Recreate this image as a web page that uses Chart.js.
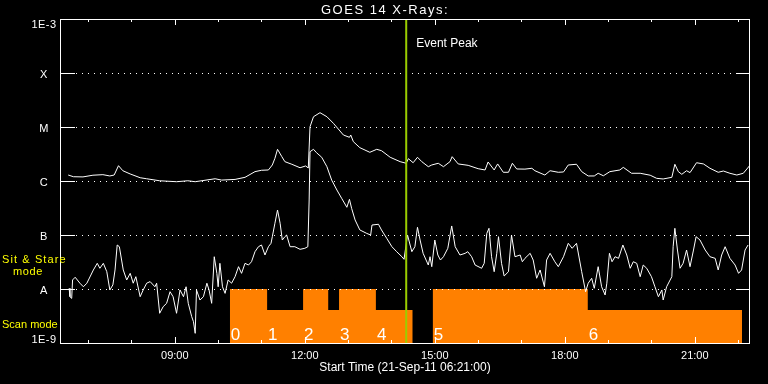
<!DOCTYPE html>
<html><head><meta charset="utf-8">
<script src="https://cdn.jsdelivr.net/npm/chart.js@4/dist/chart.umd.min.js"></script>
<style>html,body{margin:0;padding:0;background:#000;overflow:hidden}</style>
</head><body>
<canvas id="c" width="768" height="384" style="display:block;width:768px;height:384px"></canvas>
<script>
// Time axis in decimal hours of 21-Sep-11 (start 06:21:00)
const xMin = 6.35, xMax = 22.274;
const xTickHours = [7,8,9,10,11,12,13,14,15,16,17,18,19,20,21,22];
const xLabelHours = [9,12,15,18,21];
const xTickLabels = ['09:00','12:00','15:00','18:00','21:00'];
const yTickValues = [1e-3,1e-4,1e-5,1e-6,1e-7,1e-8,1e-9];
const yTickLabels = ['1E-3','X','M','C','B','A','1E-9'];
const eventPeakHour = 14.34;

// GOES 14 long channel (1-8 A), W/m^2
const upperTimes = [6.54,6.66,6.88,7.11,7.34,7.50,7.60,7.70,7.80,7.97,
8.20,8.35,8.65,9.04,9.30,9.47,9.93,10.08,10.39,10.62,
10.85,11.00,11.16,11.25,11.31,11.37,11.47,11.54,11.70,11.89,
12.02,12.08,12.12,12.20,12.35,12.51,12.66,12.89,13.03,13.06,
13.12,13.27,13.50,13.66,13.77,13.97,14.20,14.34,14.39,14.50,
14.60,14.70,14.85,14.93,15.08,15.20,15.35,15.40,15.54,15.77,
16.00,16.16,16.23,16.37,16.45,16.58,16.70,16.79,16.89,17.08,
17.24,17.31,17.54,17.66,17.85,17.97,18.08,18.27,18.39,18.54,
18.68,18.77,18.89,19.04,19.27,19.35,19.54,19.74,19.97,20.12,
20.27,20.47,20.54,20.62,20.70,20.81,20.89,21.04,21.20,21.35,
21.54,21.66,21.81,21.97,22.12,22.26];
const upperFlux = [1.29e-6,1.20e-6,1.19e-6,1.28e-6,1.31e-6,1.24e-6,1.29e-6,1.92e-6,1.55e-6,1.35e-6,
1.15e-6,1.10e-6,1.01e-6,9.7e-7,1.01e-6,9.7e-7,1.10e-6,1.04e-6,1.07e-6,1.17e-6,
1.49e-6,1.58e-6,1.60e-6,1.98e-6,2.63e-6,3.86e-6,2.82e-6,2.28e-6,2.04e-6,1.76e-6,
1.90e-6,1.74e-6,1.01e-5,1.55e-5,1.84e-5,1.55e-5,1.17e-5,7.11e-6,6.44e-6,7.11e-6,
5.35e-6,4.14e-6,3.40e-6,3.86e-6,3.64e-6,2.75e-6,2.28e-6,2.13e-6,2.59e-6,2.18e-6,
2.75e-6,2.28e-6,1.84e-6,1.98e-6,2.13e-6,1.84e-6,2.28e-6,2.82e-6,2.07e-6,1.95e-6,
1.69e-6,1.60e-6,2.25e-6,1.60e-6,2.07e-6,1.45e-6,1.45e-6,2.13e-6,1.67e-6,1.66e-6,
1.72e-6,1.55e-6,1.29e-6,1.55e-6,1.45e-6,1.47e-6,1.98e-6,2.04e-6,1.49e-6,1.24e-6,
1.24e-6,1.39e-6,1.25e-6,1.49e-6,1.60e-6,1.79e-6,1.39e-6,1.39e-6,1.28e-6,1.12e-6,
1.09e-6,1.17e-6,2.04e-6,1.49e-6,1.33e-6,1.55e-6,1.43e-6,2.18e-6,2.07e-6,1.72e-6,
1.45e-6,1.53e-6,1.39e-6,1.29e-6,1.39e-6,1.90e-6];

// GOES 14 short channel (0.5-4 A), W/m^2
const lowerTimes = [6.56,6.58,6.62,6.64,6.70,6.81,6.89,6.97,7.12,7.21,
7.27,7.35,7.43,7.50,7.57,7.62,7.67,7.72,7.81,7.89,
7.97,8.04,8.10,8.20,8.27,8.35,8.43,8.54,8.58,8.65,
8.73,8.81,8.89,8.96,9.04,9.12,9.20,9.26,9.31,9.39,
9.43,9.47,9.50,9.58,9.66,9.74,9.79,9.85,9.91,9.97,
10.00,10.04,10.10,10.16,10.23,10.31,10.39,10.47,10.54,10.62,
10.70,10.77,10.85,10.93,11.00,11.08,11.16,11.22,11.25,11.31,
11.37,11.43,11.48,11.54,11.58,11.66,11.77,11.89,12.00,12.07,
12.10,12.12,12.20,12.27,12.39,12.51,12.62,12.74,12.85,12.97,
13.03,13.08,13.16,13.27,13.43,13.52,13.55,13.70,13.77,13.89,
14.01,14.12,14.24,14.29,14.37,14.47,14.54,14.60,14.66,14.73,
14.85,14.89,14.93,15.00,15.07,15.13,15.20,15.30,15.39,15.47,
15.58,15.70,15.76,15.85,15.93,16.08,16.14,16.20,16.25,16.31,
16.37,16.43,16.47,16.54,16.60,16.70,16.77,16.85,16.97,17.02,
17.08,17.20,17.27,17.35,17.43,17.53,17.58,17.66,17.77,
17.85,17.97,18.08,18.17,18.27,18.39,18.48,18.54,18.62,18.68,
18.77,18.85,18.93,18.97,19.03,19.09,19.16,19.24,19.34,19.43,
19.51,19.58,19.66,19.74,19.81,19.89,20.00,20.08,20.16,20.24,
20.27,20.35,20.47,20.50,20.54,20.60,20.66,20.73,20.81,20.89,
20.97,21.03,21.12,21.24,21.35,21.47,21.54,21.62,21.70,21.81,
21.93,22.01,22.08,22.16,22.23];
const lowerFlux = [1.03e-8,7.2e-9,6.7e-9,1.47e-8,1.65e-8,1.28e-8,1.10e-8,1.28e-8,2.25e-8,2.99e-8,
2.42e-8,2.99e-8,2.09e-8,9.6e-9,1.19e-8,2.25e-8,6.53e-8,6.07e-8,2.25e-8,1.47e-8,
1.95e-8,1.28e-8,1.69e-8,7.2e-9,9.6e-9,1.28e-8,1.37e-8,1.10e-8,1.28e-8,3.55e-9,
4.70e-9,5.43e-9,8.91e-9,7.2e-9,3.55e-9,9.6e-9,7.2e-9,1.10e-8,5.43e-9,3.07e-9,
2.48e-9,1.51e-9,9.6e-9,6.25e-9,7.2e-9,1.28e-8,9.6e-9,5.43e-9,3.96e-8,1.95e-8,
1.10e-8,2.99e-8,1.10e-8,8.3e-9,1.47e-8,1.28e-8,1.69e-8,2.59e-8,1.95e-8,2.99e-8,
2.78e-8,3.20e-8,4.91e-8,6.07e-8,6.53e-8,4.26e-8,6.07e-8,7.02e-8,9.3e-8,1.65e-7,
2.90e-7,1.65e-7,8.07e-8,9.3e-8,1.0e-7,6.07e-8,6.07e-8,5.43e-8,5.67e-8,6.07e-8,
4.45e-7,3.49e-6,3.86e-6,3.34e-6,2.75e-6,1.84e-6,1.04e-6,6.81e-7,4.78e-7,3.26e-7,
4.58e-7,3.12e-7,1.90e-7,1.24e-7,1.07e-7,1.0e-7,1.53e-7,1.58e-7,1.24e-7,8.69e-8,
6.07e-8,4.91e-8,3.96e-8,3.55e-8,1.0e-7,4.91e-8,6.07e-8,1.39e-7,8.07e-8,4.58e-8,
2.78e-8,3.96e-8,2.59e-8,8.07e-8,4.26e-8,3.44e-8,3.96e-8,5.67e-8,1.47e-7,6.07e-8,
4.26e-8,4.58e-8,4.91e-8,3.96e-8,2.78e-8,2.42e-8,2.99e-8,1.07e-7,1.33e-7,3.96e-8,
2.09e-8,4.58e-8,9.3e-8,2.99e-8,1.74e-8,2.09e-8,1.0e-7,3.96e-8,4.26e-8,3.20e-8,
3.70e-8,4.58e-8,3.44e-8,1.58e-8,2.25e-8,1.10e-8,3.44e-8,4.58e-8,3.20e-8,
2.59e-8,3.96e-8,7.02e-8,5.67e-8,7.02e-8,2.09e-8,8.91e-9,1.28e-8,1.58e-8,1.03e-8,
2.59e-8,1.10e-8,7.74e-9,1.28e-8,4.58e-8,3.20e-8,3.96e-8,3.70e-8,6.53e-8,4.26e-8,
2.42e-8,3.20e-8,2.99e-8,1.69e-8,2.78e-8,2.42e-8,1.69e-8,1.10e-8,7.2e-9,9.6e-9,
6.25e-9,1.10e-8,1.69e-8,6.07e-8,1.33e-7,5.27e-8,2.42e-8,2.99e-8,5.27e-8,2.59e-8,
5.27e-8,9.3e-8,8.07e-8,5.27e-8,3.96e-8,3.70e-8,2.25e-8,4.26e-8,6.07e-8,3.70e-8,
2.78e-8,1.95e-8,2.25e-8,5.27e-8,6.53e-8];

// Observing mode: Sit & Stare (level A) vs Scan mode (lower level); null = no data
const modeTimes = [10.27,11.13,11.96,12.54,12.79,13.64,14.49,14.72,14.95,18.53,22.09];
const modeLevels = [1e-8,4.08e-9,1e-8,4.08e-9,1e-8,4.08e-9,4.08e-9,null,1e-8,4.08e-9,4.08e-9];
const scanLabels = ['0','1','2','3','4','5','6'];
const scanLabelTimes = [10.27,11.13,11.96,12.79,13.64,14.95,18.53];

const zip = (t, v) => t.map((x, i) => ({x: x, y: v[i]}));

const FONT = '"Liberation Sans", Arial, sans-serif';
const deco = {
  id: 'deco',
  beforeDraw(chart) {
    const c = chart.ctx;
    c.save(); c.fillStyle = '#000'; c.fillRect(0, 0, chart.width, chart.height); c.restore();
  },
  afterDatasetsDraw(chart) {
    const c = chart.ctx, a = chart.chartArea, xs = chart.scales.x, ys = chart.scales.y;
    c.save();
    c.strokeStyle = '#fff'; c.lineWidth = 1;
    // dotted grid + solid edge ticks
    yTickValues.forEach((v, i) => {
      if (i === 0 || i === yTickValues.length - 1) return;
      const y = Math.round(ys.getPixelForValue(v)) + 0.5;
      c.setLineDash([1, 5]);
      c.beginPath(); c.moveTo(a.left + 16, y); c.lineTo(a.right - 14, y); c.stroke();
      c.setLineDash([]);
      c.beginPath(); c.moveTo(a.left, y); c.lineTo(a.left + 15, y);
      c.moveTo(a.right - 14, y); c.lineTo(a.right, y); c.stroke();
    });
    // x ticks on bottom and top, inward
    xTickHours.forEach(h => {
      const x = Math.round(xs.getPixelForValue(h)) + 0.5;
      const len = xLabelHours.includes(h) ? 6 : 3;
      c.beginPath();
      c.moveTo(x, a.bottom); c.lineTo(x, a.bottom - len);
      c.moveTo(x, a.top); c.lineTo(x, a.top + len);
      c.stroke();
    });
    // frame
    c.strokeRect(a.left + 0.5, a.top + 0.5, a.right - a.left - 1, a.bottom - a.top);
    // event peak line
    const ex = xs.getPixelForValue(eventPeakHour);
    c.strokeStyle = '#9acd00'; c.lineWidth = 2;
    c.beginPath(); c.moveTo(ex, a.top + 1); c.lineTo(ex, a.bottom); c.stroke();
    c.fillStyle = '#fff'; c.font = '12px ' + FONT; c.textAlign = 'left'; c.textBaseline = 'alphabetic';
    c.fillText('Event Peak', ex + 10, 47);
    // scan labels
    c.font = '17px ' + FONT;
    scanLabels.forEach((s, i) => {
      c.fillText(s, xs.getPixelForValue(scanLabelTimes[i]) + 1, 340);
    });
    // y labels
    c.font = '11px ' + FONT; c.textAlign = 'center';
    c.letterSpacing = '0.5px';
    yTickValues.forEach((v, i) => {
      const y = ys.getPixelForValue(v);
      let by = y + 4.5;
      if (i === 0) by = a.top + 8.5;
      if (i === yTickValues.length - 1) by = a.bottom;
      c.fillText(yTickLabels[i], 44, by);
    });
    c.letterSpacing = '0px';
    // x labels
    xLabelHours.forEach((h, i) => {
      c.fillText(xTickLabels[i], xs.getPixelForValue(h), 359);
    });
    c.font = '12px ' + FONT;
    c.fillText('Start Time (21-Sep-11 06:21:00)', 405, 371);
    c.font = '13px ' + FONT;
    c.letterSpacing = '1.5px';
    c.fillText('GOES 14 X-Rays:', 385, 14);
    // mode annotations
    c.fillStyle = '#ffff00'; c.textAlign = 'left'; c.font = '11px ' + FONT;
    c.letterSpacing = '1.1px';
    c.fillText('Sit & Stare', 2, 263);
    c.letterSpacing = '0.6px';
    c.fillText('mode', 13, 275);
    c.letterSpacing = '0px';
    c.fillText('Scan mode', 2, 328);
    c.restore();
  }
};

new Chart(document.getElementById('c'), {
  type: 'line',
  data: {
    datasets: [
      {label: 'Mode', data: zip(modeTimes, modeLevels), stepped: 'before', fill: 'start',
       backgroundColor: '#ff8000', borderColor: '#ff8000', borderWidth: 0, pointRadius: 0, spanGaps: false, order: 3},
      {label: '1-8 A', data: zip(upperTimes, upperFlux), borderColor: '#ffffff', borderWidth: 1,
       pointRadius: 0, fill: false, tension: 0, order: 1},
      {label: '0.5-4 A', data: zip(lowerTimes, lowerFlux), borderColor: '#ffffff', borderWidth: 1,
       pointRadius: 0, fill: false, tension: 0, order: 2}
    ]
  },
  options: {
    responsive: false, animation: false, devicePixelRatio: 1, events: [],
    layout: {padding: {left: 60, right: 18, top: 19, bottom: 41}},
    plugins: {legend: {display: false}, tooltip: {enabled: false}},
    scales: {
      x: {type: 'linear', min: xMin, max: xMax, display: false},
      y: {type: 'logarithmic', min: 1e-9, max: 1e-3, display: false}
    }
  },
  plugins: [deco]
});
</script>
</body></html>
